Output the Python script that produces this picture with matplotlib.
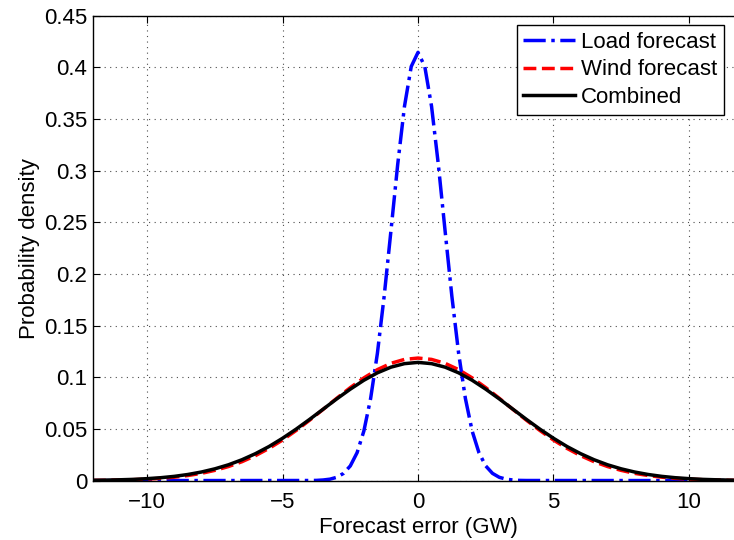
import matplotlib
matplotlib.use('Agg')
import matplotlib.pyplot as plt
import numpy as np

matplotlib.rcParams['font.family'] = ['Liberation Sans', 'DejaVu Sans']
matplotlib.rcParams['font.size'] = 16

# values (GW, probability density)
x_load = [-12, -4.0, -3.75, -3.5, -3.25, -3.0, -2.75, -2.5, -2.25, -2.0, -1.75, -1.5,
          -1.25, -1.0, -0.75, -0.5, -0.25, 0.0, 0.25, 0.5, 0.75, 1.0, 1.25, 1.5,
          1.75, 2.0, 2.25, 2.5, 2.75, 3.0, 3.25, 3.5, 3.75, 4.0, 12]
load_pdf = [0.0, 0.0001, 0.0002, 0.0006, 0.0014, 0.0032, 0.0070, 0.0142, 0.0270, 0.0479,
            0.0794, 0.1231, 0.1784, 0.2416, 0.3060, 0.3622, 0.4008, 0.4145, 0.4008,
            0.3622, 0.3060, 0.2416, 0.1784, 0.1231, 0.0794, 0.0479, 0.0270, 0.0142,
            0.0070, 0.0032, 0.0014, 0.0006, 0.0002, 0.0001, 0.0]

x_err = [-12, -11.5, -11, -10.5, -10, -9.5, -9, -8.5, -8, -7.5, -7, -6.5, -6, -5.5, -5,
         -4.5, -4, -3.5, -3, -2.5, -2, -1.5, -1, -0.5, 0, 0.5, 1, 1.5, 2, 2.5, 3, 3.5,
         4, 4.5, 5, 5.5, 6, 6.5, 7, 7.5, 8, 8.5, 9, 9.5, 10, 10.5, 11, 11.5, 12]
wind_pdf = [0.0002, 0.0003, 0.0006, 0.0009, 0.0014, 0.0022, 0.0033, 0.0049, 0.0070,
            0.0099, 0.0136, 0.0183, 0.0242, 0.0312, 0.0393, 0.0485, 0.0585, 0.0690,
            0.0797, 0.0900, 0.0994, 0.1074, 0.1135, 0.1173, 0.1186, 0.1173, 0.1135,
            0.1074, 0.0994, 0.0900, 0.0797, 0.0690, 0.0585, 0.0485, 0.0393, 0.0312,
            0.0242, 0.0183, 0.0136, 0.0099, 0.0070, 0.0049, 0.0033, 0.0022, 0.0014,
            0.0009, 0.0006, 0.0003, 0.0002]
comb_pdf = [0.0003, 0.0005, 0.0008, 0.0012, 0.0019, 0.0028, 0.0041, 0.0059, 0.0083,
            0.0114, 0.0153, 0.0202, 0.0261, 0.0330, 0.0410, 0.0498, 0.0593, 0.0692,
            0.0791, 0.0885, 0.0971, 0.1043, 0.1098, 0.1132, 0.1144, 0.1132, 0.1098,
            0.1043, 0.0971, 0.0885, 0.0791, 0.0692, 0.0593, 0.0498, 0.0410, 0.0330,
            0.0261, 0.0202, 0.0153, 0.0114, 0.0083, 0.0059, 0.0041, 0.0028, 0.0019,
            0.0012, 0.0008, 0.0005, 0.0003]

xticks = [-10, -5, 0, 5, 10]
yticks = [0, 0.05, 0.1, 0.15, 0.2, 0.25, 0.3, 0.35, 0.4, 0.45]
ytick_labels = ['0', '0.05', '0.1', '0.15', '0.2', '0.25', '0.3', '0.35', '0.4', '0.45']

fig = plt.figure(figsize=(7.34, 5.40), dpi=100)
# right edge of the axes sits just past the figure, as in the cropped original
ax = fig.add_axes([0.1267, 0.11, 0.8856, 0.861])

ax.plot(x_load, load_pdf, color='blue', linestyle='-.', lw=2.5, label='Load forecast')
ax.plot(x_err, wind_pdf, color='red', linestyle='--', lw=2.5, label='Wind forecast')
ax.plot(x_err, comb_pdf, color='black', linestyle='-', lw=2.5, label='Combined')

ax.set_xlim(-12, 12)
ax.set_ylim(0, 0.45)
ax.set_xticks(xticks)
ax.set_yticks(yticks)
ax.set_yticklabels(ytick_labels)
ax.tick_params(direction='in', top=True, right=True, length=5, width=0.8)
ax.tick_params(axis='x', pad=8)
ax.tick_params(axis='y', pad=4)
ax.grid(True, linestyle=(0, (1, 4)), color='0.3', linewidth=0.8)
for s in ax.spines.values():
    s.set_linewidth(1.0)

ax.set_xlabel('Forecast error (GW)', labelpad=3)
ax.set_ylabel('Probability density', labelpad=3)

leg = ax.legend(loc='upper left', bbox_to_anchor=(0.652, 0.980), borderaxespad=0,
                fancybox=False, framealpha=1, edgecolor='black', handlelength=2.3,
                handletextpad=0.3, labelspacing=0.3, borderpad=0.3)
leg.get_frame().set_linewidth(1.0)

fig.savefig('out.png', dpi=100)
